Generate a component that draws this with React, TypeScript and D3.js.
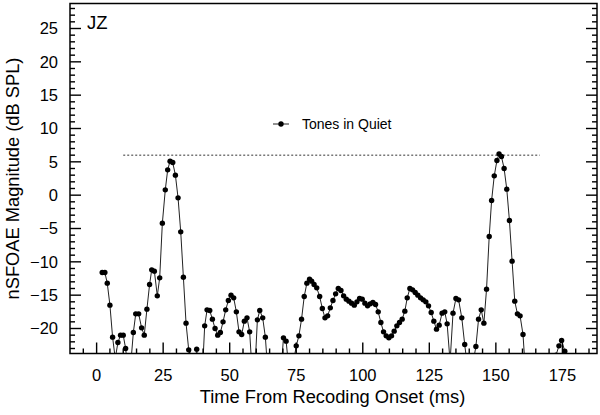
import React from 'react';
import * as d3 from 'd3';

// ---- data ----
const timeMs: number[] = [
  2.1, 3.1, 4.0, 5.0, 6.0, 7.0, 8.0, 9.0, 10.0, 10.9,
  11.9, 12.9, 13.8, 14.7, 15.8, 16.9, 17.9, 18.9, 19.9, 20.7,
  21.7, 22.8, 23.7, 24.7, 25.8, 26.7, 27.6, 28.6, 29.6, 30.6,
  31.6, 32.6, 33.6, 34.6, 35.6, 36.6, 37.6, 38.6, 39.6, 40.6,
  41.5, 42.5, 43.5, 44.5, 45.5, 46.5, 47.5, 48.5, 49.5, 50.5,
  51.5, 52.5, 53.5, 54.5, 55.5, 56.5, 57.5, 58.5, 59.5, 60.4,
  61.3, 62.4, 63.4, 64.4, 65.4, 66.4, 67.4, 68.3, 69.2, 70.2,
  71.2, 72.1, 73.1, 74.0, 75.0, 76.0, 77.0, 78.0, 79.0, 80.0,
  80.8, 81.7, 82.7, 83.8, 84.8, 85.8, 86.8, 87.8, 88.8, 89.8,
  90.8, 91.8, 92.8, 93.8, 94.8, 95.8, 96.8, 97.8, 98.8, 99.8,
  100.8, 101.8, 102.8, 103.8, 104.8, 105.8, 106.8, 107.8, 108.8, 109.8,
  110.8, 111.8, 112.8, 113.8, 114.8, 115.8, 116.7, 117.7, 118.7, 119.7,
  120.7, 121.7, 122.7, 123.7, 124.7, 125.7, 126.7, 127.7, 128.7, 129.8,
  130.8, 131.7, 132.8, 133.9, 135.0, 136.0, 137.2, 138.3, 139.4, 140.4,
  141.5, 142.5, 143.5, 144.5, 145.5, 146.5, 147.5, 148.4, 149.4, 150.4,
  151.2, 152.1, 153.1, 154.1, 155.1, 156.1, 157.1, 158.1, 159.1, 160.2,
  161.2, 162.2, 163.2, 164.2, 165.2, 166.2, 167.2, 168.3, 169.3, 170.4,
  171.5, 172.6, 173.7, 174.7, 175.9, 176.9, 177.9,
];

const magnitudeDb: number[] = [
  -11.6, -11.6, -13.2, -16.5, -21.3, -24.5, -22.1, -21.0, -21.0, -23.0,
  -26.5, -25.0, -20.6, -17.8, -17.8, -19.9, -21.0, -17.1, -13.4, -11.2,
  -11.4, -15.1, -12.4, -4.2, 0.8, 3.8, 5.1, 4.9, 3.0, -0.4,
  -5.5, -12.3, -19.2, -23.2, -27.0, -26.5, -23.1, -27.0, -28.0, -19.6,
  -17.2, -17.3, -18.6, -20.0, -21.0, -20.6, -19.0, -17.2, -15.8, -15.0,
  -15.4, -17.5, -20.5, -20.9, -18.9, -18.4, -20.5, -27.0, -26.0, -18.7,
  -17.3, -18.4, -21.3, -27.0, -30.0, -31.0, -30.0, -29.0, -27.0, -21.4,
  -21.9, -25.5, -27.0, -25.0, -22.6, -21.1, -18.6, -15.2, -13.2, -12.6,
  -12.9, -13.4, -13.9, -15.2, -17.0, -18.4, -18.1, -16.9, -15.8, -14.8,
  -14.0, -14.3, -15.1, -15.6, -15.9, -16.2, -16.5, -16.0, -15.5, -15.6,
  -16.2, -16.6, -16.3, -16.1, -16.4, -17.5, -19.1, -20.5, -21.1, -21.4,
  -21.1, -20.4, -19.6, -19.1, -18.6, -17.4, -15.4, -14.0, -14.2, -14.6,
  -15.0, -15.4, -15.7, -16.0, -16.6, -17.6, -18.9, -20.1, -19.5, -17.7,
  -17.5, -19.3, -25.0, -17.7, -15.5, -15.7, -18.4, -22.4, -26.0, -28.0,
  -25.0, -22.7, -18.6, -17.2, -19.2, -14.1, -6.2, -0.8, 2.9, 5.2,
  6.2, 5.8, 4.0, 0.9, -3.8, -9.9, -15.9, -17.8, -18.1, -20.9,
  -27.0, -30.0, -31.0, -32.0, -31.0, -30.0, -31.0, -30.0, -29.0, -30.0,
  -28.0, -24.0, -22.6, -21.8, -23.4, -27.0, -28.0,
];

const xTickValues = [0, 25, 50, 75, 100, 125, 150, 175];
const yTickValues = [-20, -15, -10, -5, 0, 5, 10, 15, 20, 25];
const xDomain = [-10, 188];
const yDomain = [-23.75, 28.75];
const referenceLevelDb = 6;
const referenceStartMs = 10;
const referenceEndMs = 166.5;
const seriesName = 'Tones in Quiet';
const subjectLabel = 'JZ';
const xTitle = 'Time From Recoding Onset (ms)';
const yTitle = 'nSFOAE Magnitude (dB SPL)';

const FONT = '"Liberation Sans", Arial, Helvetica, sans-serif';

const fmt = (d: number) => (d < 0 ? '\u2212' + Math.abs(d) : String(d));

export default function App() {
  const W = 600;
  const H = 415;
  const left = 70;
  const right = 597;
  const top = 3.5;
  const bottom = 353.5;

  const x = d3.scaleLinear().domain(xDomain).range([left, right]);
  const y = d3.scaleLinear().domain(yDomain).range([bottom, top]);

  const points = timeMs.map((t, i) => ({ t, v: magnitudeDb[i] }));
  const line = d3
    .line<{ t: number; v: number }>()
    .x((d) => x(d.t))
    .y((d) => y(d.v));

  const xMinor = d3.range(-5, 188, 5).filter((v) => v % 25 !== 0);
  const yMinor = d3.range(-23, 29, 1).filter((v) => v % 5 !== 0);

  const minorLen = 5;
  const majorLen = 11;
  const tickStroke = 1.4;

  return (
    <div style={{ position: 'absolute', left: 0, top: 0 }}>
      <svg width={W} height={H} style={{ display: 'block', background: '#fff' }}>
        <defs>
          <clipPath id="plotClip">
            <rect x={left} y={top} width={right - left} height={bottom - top} />
          </clipPath>
        </defs>

        {/* data */}
        <g clipPath="url(#plotClip)">
          <line
            x1={x(referenceStartMs)}
            x2={x(referenceEndMs)}
            y1={y(referenceLevelDb)}
            y2={y(referenceLevelDb)}
            stroke="#333"
            strokeWidth={1}
            strokeDasharray="2,2"
          />
          <path d={line(points) || ''} fill="none" stroke="#222" strokeWidth={1} />
          {points.map((p, i) => (
            <circle key={i} cx={x(p.t)} cy={y(p.v)} r={2.7} fill="#000" />
          ))}
        </g>

        {/* ticks */}
        <g stroke="#000" strokeWidth={tickStroke}>
          {xMinor.map((v) => (
            <line key={'xm' + v} x1={x(v)} x2={x(v)} y1={bottom} y2={bottom - minorLen} />
          ))}
          {xTickValues.map((v) => (
            <line key={'xM' + v} x1={x(v)} x2={x(v)} y1={bottom} y2={bottom - majorLen} />
          ))}
          {yMinor.map((v) => (
            <g key={'ym' + v}>
              <line x1={left} x2={left + minorLen} y1={y(v)} y2={y(v)} />
              <line x1={right} x2={right - minorLen} y1={y(v)} y2={y(v)} />
            </g>
          ))}
          {yTickValues.map((v) => (
            <g key={'yM' + v}>
              <line x1={left} x2={left + majorLen} y1={y(v)} y2={y(v)} />
              <line x1={right} x2={right - majorLen} y1={y(v)} y2={y(v)} />
            </g>
          ))}
        </g>

        {/* frame */}
        <rect
          x={left}
          y={top}
          width={right - left}
          height={bottom - top}
          fill="none"
          stroke="#000"
          strokeWidth={1.5}
        />

        {/* tick labels */}
        <g fontFamily={FONT} fontSize={16.5} fill="#000">
          {xTickValues.map((v) => (
            <text key={'xl' + v} x={x(v)} y={381} textAnchor="middle">
              {fmt(v)}
            </text>
          ))}
          {yTickValues.map((v) => (
            <text key={'yl' + v} x={58} y={y(v)} dy="0.35em" textAnchor="end">
              {fmt(v)}
            </text>
          ))}
        </g>

        {/* titles */}
        <text x={(left + right) / 2 - 1} y={403} textAnchor="middle" fontFamily={FONT} fontSize={18.3} fill="#000">
          {xTitle}
        </text>
        <text
          transform={`translate(19, ${(top + bottom) / 2}) rotate(-90)`}
          textAnchor="middle"
          fontFamily={FONT}
          fontSize={18.3}
          fill="#000"
        >
          {yTitle}
        </text>

        {/* subject label */}
        <text x={87} y={28.5} fontFamily={FONT} fontSize={18.5} fill="#000">
          {subjectLabel}
        </text>

        {/* legend */}
        <g>
          <line x1={273} x2={289} y1={124} y2={124} stroke="#222" strokeWidth={1} />
          <circle cx={281} cy={124} r={2.7} fill="#000" />
          <text x={302} y={129} fontFamily={FONT} fontSize={14} fill="#000">
            {seriesName}
          </text>
        </g>
      </svg>
    </div>
  );
}
